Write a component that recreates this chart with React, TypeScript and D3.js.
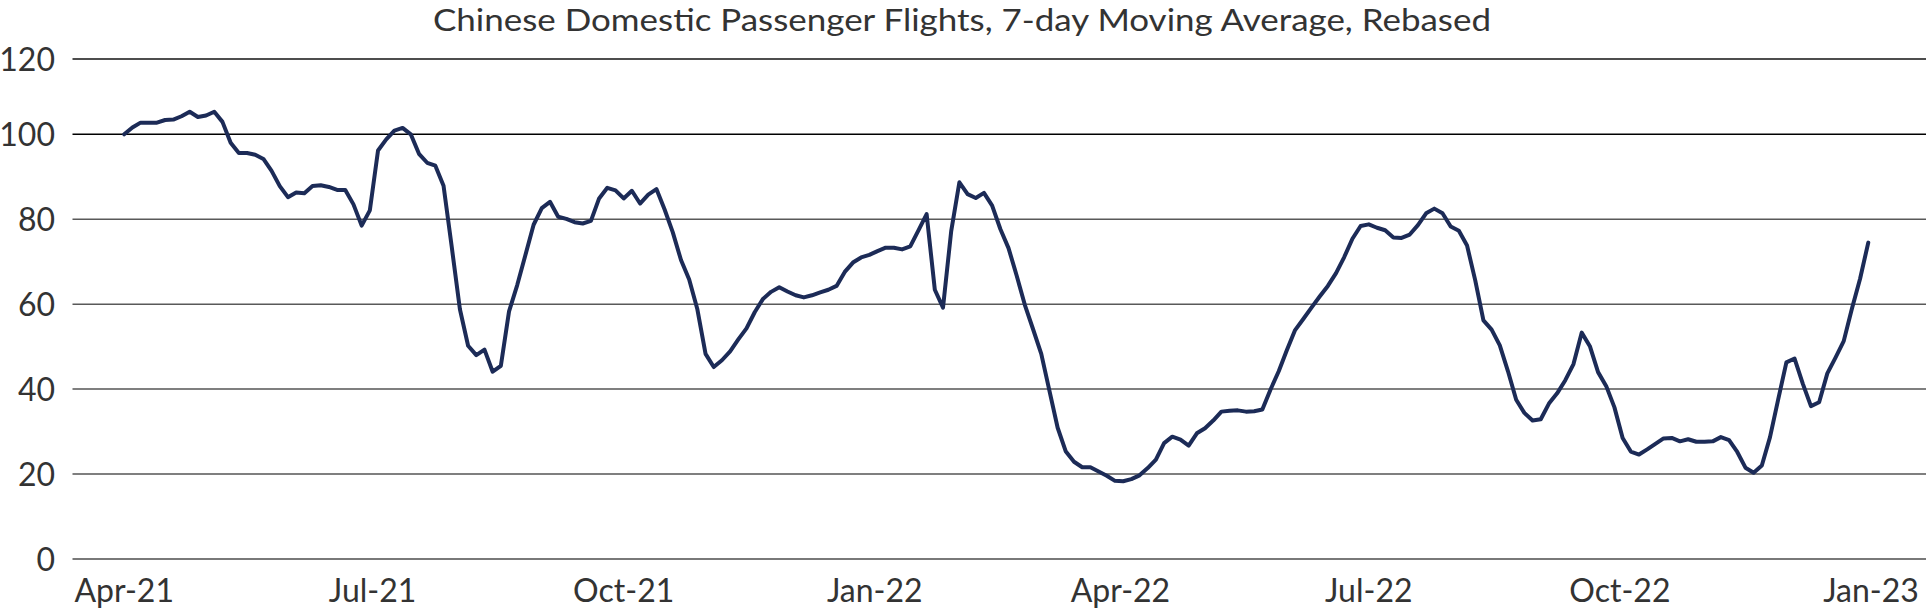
import React from "react";
import * as d3 from "d3";

const TITLE = "Chinese Domestic Passenger Flights, 7-day Moving Average, Rebased";
const START_DATE = "2021-04-01";
const STEP_DAYS = 3;
const Y_TICKS = [0, 20, 40, 60, 80, 100, 120];
const X_TICK_DATES = ["2021-04-01", "2021-07-01", "2021-10-01", "2022-01-01", "2022-04-01", "2022-07-01", "2022-10-01", "2023-01-01"];

// 7-day moving average, rebased; one reading every 3 days from 1 Apr 2021
const flights2021 = [
  100.0, 101.8, 103.1, 103.1, 103.1, 103.8, 103.9, 104.8, 106.0, 104.6,
  105.0, 106.0, 103.3, 98.0, 95.6, 95.6, 95.2, 94.2, 91.4, 87.8,
  85.2, 86.3, 86.1, 87.8, 88.0, 87.6, 86.9, 86.9, 83.5, 78.5,
  82.1, 96.2, 98.8, 101.0, 101.7, 100.0, 95.4, 93.3, 92.6, 87.9,
  73.5, 58.8, 50.2, 48.0, 49.3, 44.1, 45.5, 58.3, 64.5, 71.6,
  78.7, 82.6, 84.1, 80.6, 80.1, 79.3,
  79.0, 79.6, 84.9, 87.4, 86.8, 84.9, 86.7, 83.7, 85.8, 87.1,
  82.3, 76.9, 70.4, 65.8, 58.8, 48.3, 45.2, 46.8, 48.9, 51.7,
  54.3, 58.1, 61.2, 62.9, 64.0, 63.0, 62.1, 61.6, 62.1, 62.8,
  63.4, 64.3, 67.6, 69.8, 71.0, 71.6, 72.5, 73.3, 73.3, 72.9,
];
const flights2022 = [
  73.6, 77.4, 81.2, 63.4, 59.2, 77.2, 88.7, 85.9, 85.0, 86.2,
  83.2, 77.7, 73.2, 66.7, 59.8, 54.1, 48.3, 39.6, 30.9, 25.3,
  22.9,
  21.6, 21.6, 20.6, 19.6, 18.4, 18.3, 18.8, 19.7, 21.4, 23.4,
  27.3, 28.8, 28.1, 26.7, 29.6, 30.8, 32.6, 34.7, 34.9, 35.0,
  34.7, 34.8, 35.2, 39.9, 44.2, 49.2, 53.9, 56.5, 59.2, 61.8,
  64.3, 67.3, 71.1, 75.4, 78.4, 78.8, 78.0, 77.4, 75.7, 75.6,
  76.4, 78.6, 81.4, 82.5, 81.4, 78.3, 77.3, 73.8, 65.6, 56.2,
  54.0, 50.3, 44.2, 37.5, 34.4, 32.6, 32.9, 36.6, 39.0, 42.1,
  45.9,
  53.3, 50.1, 44.0, 40.7, 35.7, 28.5, 25.3, 24.6, 25.8, 27.1,
  28.4, 28.5, 27.7, 28.2, 27.6, 27.6, 27.7, 28.7, 28.0, 25.2,
  21.5, 20.3, 22.0, 28.7, 37.6, 46.3, 47.2, 41.3, 36.0, 36.9,
  43.7, 47.4, 51.3, 58.9, 66.0, 74.5,
];
const values = [...flights2021, ...flights2022];

const W = 1926;
const H = 610;
const FONT = "Lato, 'Open Sans', sans-serif";

export default function App() {
  const parse = d3.utcParse("%Y-%m-%d");
  const start = parse(START_DATE) as Date;
  const data = values.map((v, i) => ({ date: d3.utcDay.offset(start, i * STEP_DAYS), value: v }));

  const x = d3
    .scaleUtc()
    .domain([parse("2021-04-01") as Date, parse("2023-01-01") as Date])
    .range([124.2, 1871]);
  const y = d3.scaleLinear().domain([0, 100, 120]).range([559, 134.3, 59]);

  const line = d3
    .line<{ date: Date; value: number }>()
    .x((d) => x(d.date))
    .y((d) => y(d.value))
    .curve(d3.curveLinear);

  const fmt = d3.utcFormat("%b-%y");
  const gridStyle: Record<number, { c: string; w: number }> = {
    0: { c: "#4d4d4d", w: 1.6 },
    20: { c: "#7f7f7f", w: 2 },
    40: { c: "#7f7f7f", w: 2 },
    60: { c: "#595959", w: 1.6 },
    80: { c: "#595959", w: 1.6 },
    100: { c: "#000000", w: 1.6 },
    120: { c: "#4d4d4d", w: 1.8 },
  };

  return (
    <div style={{ position: "absolute", left: 0, top: 0 }}>
      <svg width={W} height={H} style={{ display: "block", background: "#fff" }}>
        <text
          x={962}
          y={30.5}
          textAnchor="middle"
          fontFamily={FONT}
          fontSize={30}
          fill="#333333"
          textLength={1058}
          lengthAdjust="spacingAndGlyphs"
        >
          {TITLE}
        </text>
        {Y_TICKS.map((t) => (
          <g key={t}>
            <line x1={72.5} x2={1926} y1={y(t)} y2={y(t)} stroke={gridStyle[t].c} strokeWidth={gridStyle[t].w} />
            <text x={55} y={y(t) + 11.5} textAnchor="end" fontFamily={FONT} fontSize={32} fill="#333333">
              {t}
            </text>
          </g>
        ))}
        {X_TICK_DATES.map((s) => {
          const d = parse(s) as Date;
          return (
            <text key={s} x={x(d)} y={601.5} textAnchor="middle" fontFamily={FONT} fontSize={32} fill="#333333">
              {fmt(d)}
            </text>
          );
        })}
        <path d={line(data) || ""} fill="none" stroke="#1c2b57" strokeWidth={4} strokeLinejoin="round" strokeLinecap="round" />
      </svg>
    </div>
  );
}
